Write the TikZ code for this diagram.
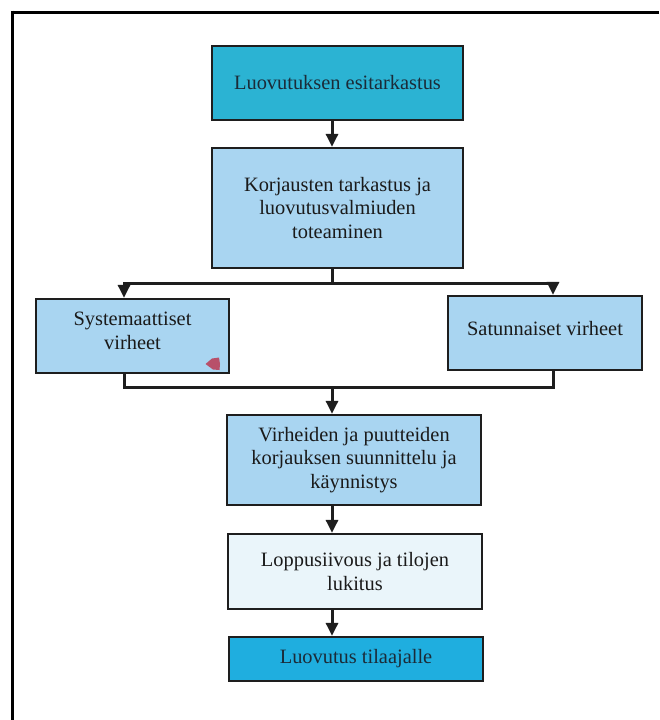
\documentclass[tikz,border=0pt]{standalone}
\usepackage{fontspec}
\setmainfont{Liberation Serif}
\usetikzlibrary{arrows.meta}
\definecolor{tealbox}{HTML}{2BB3D3}
\definecolor{bluebox}{HTML}{1FAEDF}
\definecolor{lightbox}{HTML}{A9D5F1}
\definecolor{palebox}{HTML}{EAF5FA}
\definecolor{inkdark}{HTML}{1A1A1A}
\definecolor{inkblue}{HTML}{1B2B38}
\definecolor{edgedark}{HTML}{1E1E1E}
\definecolor{markred}{HTML}{B8506A}
\tikzset{
  stagebox/.style={draw=edgedark, line width=2.3pt, align=center, inner sep=2pt,
    text=inkdark, font=\fontsize{20.4}{23.5}\selectfont},
  stagetext/.style={text=inkdark, align=center, font=\fontsize{20.4}{23.5}\selectfont},
  flowline/.style={draw=edgedark, line width=3pt},
  flowarrow/.style={flowline, -{Triangle[width=12pt,length=13pt]}},
  frameline/.style={draw=black, line width=3pt}
}
\begin{document}
\begin{tikzpicture}[x=1pt,y=-1pt]
  \useasboundingbox (0,0) rectangle (659,720);
  \fill[white] (0,0) rectangle (659,720);

  % page frame (top and left edges)
  \coordinate (fa) at (10.5,12);
  \coordinate (fb) at (659,12);
  \coordinate (fc) at (12,720);
  \draw[frameline] (fb) -- (fa);
  \draw[frameline] (12,10.5) -- (fc);

  % stages
  \node[stagebox, fill=tealbox, text=inkblue, minimum width=251pt, minimum height=74pt] (b1) at (337.5,83)
    {Luovutuksen esitarkastus};
  \node[stagebox, fill=lightbox, minimum width=251pt, minimum height=120pt] (b2) at (337.5,208)
    {Korjausten tarkastus ja\\ luovutusvalmiuden\\ toteaminen};
  \node[stagebox, fill=lightbox, minimum width=193pt, minimum height=74pt] (ls) at (132.5,336)
    {};
  \node[stagetext] (lst) at (132.5,331) {Systemaattiset\\ virheet};
  \node[stagebox, fill=lightbox, minimum width=194pt, minimum height=74pt] (rs) at (545,333)
    {};
  \node[stagetext] (rst) at (545,329) {Satunnaiset virheet};
  \node[stagebox, fill=lightbox, minimum width=254pt, minimum height=90pt] (b4) at (354,460)
    {Virheiden ja puutteiden\\ korjauksen suunnittelu ja\\ käynnistys};
  \node[stagebox, fill=palebox, minimum width=254pt, minimum height=75pt] (b5) at (355,571.5)
    {Loppusiivous ja tilojen\\ lukitus};
  \node[stagebox, fill=bluebox, text=inkblue, minimum width=254pt, minimum height=44pt] (b6) at (356,659)
    {Luovutus tilaajalle};

  % small mark in the corner of the left box
  \fill[markred] (205.5,364) -- (212,358.5) -- (219,357.5) -- (220,364) -- (219.5,370)
    -- (213,369.5) -- cycle;

  % connector guides
  \coordinate (sp) at (332,0);
  \coordinate (lx) at (124,0);
  \coordinate (rx) at (553,0);
  \coordinate (s1) at (332,283);
  \coordinate (m1) at (332,387);

  \draw[flowarrow] (b1.south -| sp) -- (b2.north -| sp);
  \draw[flowline] (b2.south -| sp) -- (s1);
  \draw[flowarrow] (s1) -| (ls.north -| lx);
  \draw[flowarrow] (s1) -| (rs.north -| rx);
  \draw[flowline] (ls.south -| lx) |- (m1);
  \draw[flowline] (rs.south -| rx) |- (m1);
  \draw[flowarrow] (m1) -- (b4.north -| sp);
  \draw[flowarrow] (b4.south -| sp) -- (b5.north -| sp);
  \draw[flowarrow] (b5.south -| sp) -- (b6.north -| sp);
\end{tikzpicture}
\end{document}
